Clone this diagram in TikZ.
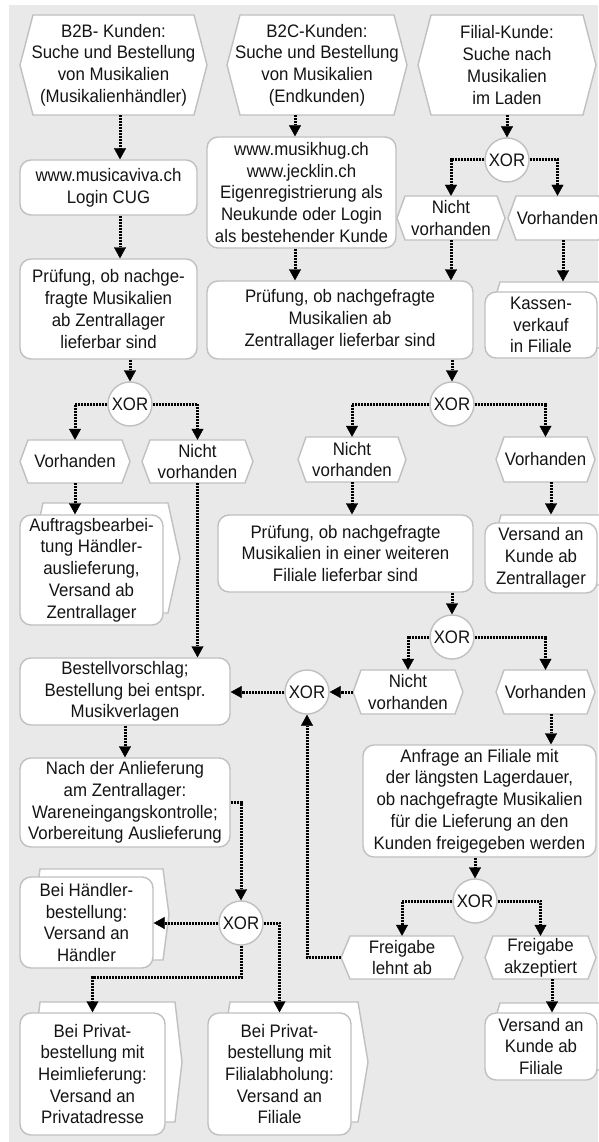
\documentclass[tikz,border=0pt]{standalone}
\usepackage{fontspec}
\setmainfont{Liberation Sans}[FakeStretch=0.93]
\usetikzlibrary{arrows.meta,calc}
\definecolor{bgc}{RGB}{233,233,233}
\definecolor{bdc}{RGB}{192,192,192}
\definecolor{txc}{RGB}{20,20,20}
\tikzset{
  txt/.style={inner sep=0pt, align=center, font=\fontsize{18.1}{21.7}\selectfont, text=txc},
  shp/.style={draw=bdc, line width=1.4pt, fill=white},
  fn/.style={txt, shp, rounded corners=11pt},
  xorn/.style={txt, shp, circle, minimum size=44pt},
  arr/.style={line width=3pt, dash pattern=on 2pt off 1pt, -{Triangle[width=12pt,length=11pt,line width=0.4pt]}},
}
% hexagon event: name, x1, y1, x2, y2, indent, text
\newcommand\hexev[7]{%
  \draw[shp] (#2,{(#3+#5)/2}) -- ({#2+#6},#3) -- ({#4-#6},#3) -- (#4,{(#3+#5)/2}) -- ({#4-#6},#5) -- ({#2+#6},#5) -- cycle;
  \node[txt, minimum width={(#4-#2)*1pt}, minimum height={(#5-#3)*1pt}] (#1) at ({(#2+#4)/2},{(#3+#5)/2}) {#7};}
% rounded function box: name, x1, y1, x2, y2, text
\newcommand\fnbox[6]{%
  \node[fn, minimum width={(#4-#2)*1pt}, minimum height={(#5-#3)*1pt}] (#1) at ({(#2+#4)/2},{(#3+#5)/2}) {#6};}
% back shape of an output box: left x, top y, right x, bottom y, indent
\newcommand\backev[5]{%
  \draw[shp] (#1,#2) -- (#3,#2) -- ({#3+#5},{(#2+#4)/2}) -- (#3,#4) -- (#1,#4) -- ({#1-#5},{(#2+#4)/2}) -- cycle;}
\begin{document}
\begin{tikzpicture}[x=1pt,y=-1pt]
\useasboundingbox (0,0) rectangle (598,1142);
\fill[white] (0,0) rectangle (598,1142);
\fill[bgc] (9,5) rectangle (598,1142);

% top events
\hexev{b2b}{20}{15}{207}{115}{13}{B2B- Kunden:\\Suche und Bestellung\\von Musikalien\\(Musikalienhändler)}
\hexev{b2c}{227}{15}{407}{115}{13}{B2C-Kunden:\\Suche und Bestellung\\von Musikalien\\(Endkunden)}
\hexev{fil}{418}{15}{596}{115}{13}{Filial-Kunde:\\Suche nach\\Musikalien\\im Laden}

% column 1
\fnbox{viva}{20}{160}{197}{215}{www.musicaviva.ch\\Login CUG}
\fnbox{prA}{20}{259}{197}{359}{Prüfung, ob nachge-\\fragte Musikalien\\ab Zentrallager\\lieferbar sind}
\node[xorn] (x2) at (130,404) {XOR};
\hexev{e6}{20}{440}{130}{483}{8}{Vorhanden}
\hexev{e7}{142}{440}{253}{483}{8}{Nicht\\vorhanden}
\backev{43}{503}{168}{613}{12}
\fnbox{auf}{20}{515}{163}{625}{Auftragsbearbei-\\tung Händler-\\auslieferung,\\Versand ab\\Zentrallager}
\fnbox{bst}{20}{658}{230}{725}{Bestellvorschlag;\\Bestellung bei entspr.\\Musikverlagen}
\fnbox{anl}{20}{758}{230}{847}{Nach der Anlieferung\\am Zentrallager:\\Wareneingangskontrolle;\\Vorbereitung Auslieferung}
\node[xorn] (x6) at (241,923) {XOR};
\backev{40}{869}{163}{960}{6}
\fnbox{hae}{20}{877}{153}{968}{Bei Händler-\\bestellung:\\Versand an\\Händler}
\backev{40}{1002}{175}{1122}{7}
\fnbox{phe}{20}{1013}{165}{1135}{Bei Privat-\\bestellung mit\\Heimlieferung:\\Versand an\\Privatadresse}
\backev{230}{1002}{358}{1122}{10}
\fnbox{pfi}{208}{1013}{351}{1135}{Bei Privat-\\bestellung mit\\Filialabholung:\\Versand an\\Filiale}

% column 2
\fnbox{hug}{207}{137}{396}{248}{www.musikhug.ch\\www.jecklin.ch\\Eigenregistrierung als\\Neukunde oder Login\\als bestehender Kunde}
\fnbox{prB}{207}{281}{473}{359}{Prüfung, ob nachgefragte\\Musikalien ab\\Zentrallager lieferbar sind}
\node[xorn] (x3) at (452,404) {XOR};
\hexev{e8}{298}{437}{406}{482}{8}{Nicht\\vorhanden}
\hexev{e9}{496}{437}{595}{482}{8}{Vorhanden}
\fnbox{prC}{218}{515}{473}{592}{Prüfung, ob nachgefragte\\Musikalien in einer weiteren\\Filiale lieferbar sind}
\backev{501}{515}{612}{585}{10}
\fnbox{vzl}{485}{523}{597}{593}{Versand an\\Kunde ab\\Zentrallager}
\node[xorn] (x4) at (452,637) {XOR};
\hexev{e10}{353}{670}{463}{714}{8}{Nicht\\vorhanden}
\hexev{e11}{496}{670}{595}{714}{8}{Vorhanden}
\node[xorn] (x5) at (307,692) {XOR};
\fnbox{anf}{363}{745}{596}{857}{Anfrage an Filiale mit\\der längsten Lagerdauer,\\ob nachgefragte Musikalien\\für die Lieferung an den\\Kunden freigegeben werden}
\node[xorn] (x7) at (475,901) {XOR};
\hexev{e12}{341}{936}{463}{979}{9}{Freigabe\\lehnt ab}
\hexev{e13}{485}{936}{596}{979}{8}{Freigabe\\akzeptiert}
\backev{500}{1003}{612}{1070}{10}
\fnbox{vfi}{485}{1013}{597}{1080}{Versand an\\Kunde ab\\Filiale}

% column 3 top
\node[xorn] (x1) at (507,160) {XOR};
\hexev{e4}{397}{196}{505}{240}{8}{Nicht\\vorhanden}
\hexev{e5}{508}{196}{607}{240}{8}{Vorhanden}
\backev{500}{282}{612}{348}{10}
\fnbox{kas}{485}{292}{597}{358}{Kassen-\\verkauf\\in Filiale}

% connectors column 1
\draw[arr] ([xshift=6.5pt]b2b.south) -- ([xshift=11.5pt]viva.north);
\draw[arr] ([xshift=11.5pt]viva.south) -- ([xshift=11.5pt]prA.north);
\draw[arr] ([xshift=21.5pt]prA.south) -- (x2.north);
\draw[arr] (x2.west) -| (e6.north);
\draw[arr] (x2.east) -| (e7.north);
\draw[arr] (e6.south) -- (e6.south |- auf.north);
\draw[arr] (e7.south) -- (e7.south |- bst.north);
\draw[arr] (bst.south) -- (anl.north);
\draw[arr] (anl.east) -| (x6.north);
\draw[arr] (x6.west) -- (x6.west -| hae.east);
\draw[arr] (x6.east) -| (pfi.north);
\draw[arr] (x6.south) |- ([yshift=35pt]phe.north) -- (phe.north);

% connectors column 2
\draw[arr] ([xshift=-22pt]b2c.south) -- ([xshift=-6.5pt]hug.north);
\draw[arr] ([xshift=-6.5pt]hug.south) -- ([xshift=-45pt]prB.north);
\draw[arr] ([xshift=112pt]prB.south) -- (x3.north);
\draw[arr] (x3.west) -| (e8.north);
\draw[arr] (x3.east) -| (e9.north);
\draw[arr] (e8.south) -- (e8.south |- prC.north);
\draw[arr] ([xshift=5.5pt]e9.south) -- ($(e9.south |- vzl.north)+(5.5pt,8pt)$);
\draw[arr] ([xshift=106.5pt]prC.south) -- (x4.north);
\draw[arr] (x4.west) -| (e10.north);
\draw[arr] (x4.east) -| (e11.north);
\draw[arr] ([xshift=5.5pt]e11.south) -- ($(e11.south |- anf.north)+(5.5pt,0pt)$);
\draw[arr] (e10.west) -- (x5.east);
\draw[arr] (x5.west) -- (x5.west -| bst.east);
\draw[arr] ([xshift=-4.5pt]anf.south) -- (x7.north);
\draw[arr] (x7.west) -| (e12.north);
\draw[arr] (x7.east) -| (e13.north);
\draw[arr] (e12.west) -| (x5.south);
\draw[arr] ([xshift=11.5pt]e13.south) -- ($(e13.south |- vfi.north)+(11.5pt,0pt)$);

% connectors column 3
\draw[arr] (fil.south) -- (x1.north);
\draw[arr] (x1.west) -| (e4.north);
\draw[arr] (x1.east) -| (e5.north);
\draw[arr] (e4.south) -- (e4.south |- prB.north);
\draw[arr] ([xshift=5.5pt]e5.south) -- ($(e5.south |- kas.north)+(5.5pt,10pt)$);
\end{tikzpicture}
\end{document}
